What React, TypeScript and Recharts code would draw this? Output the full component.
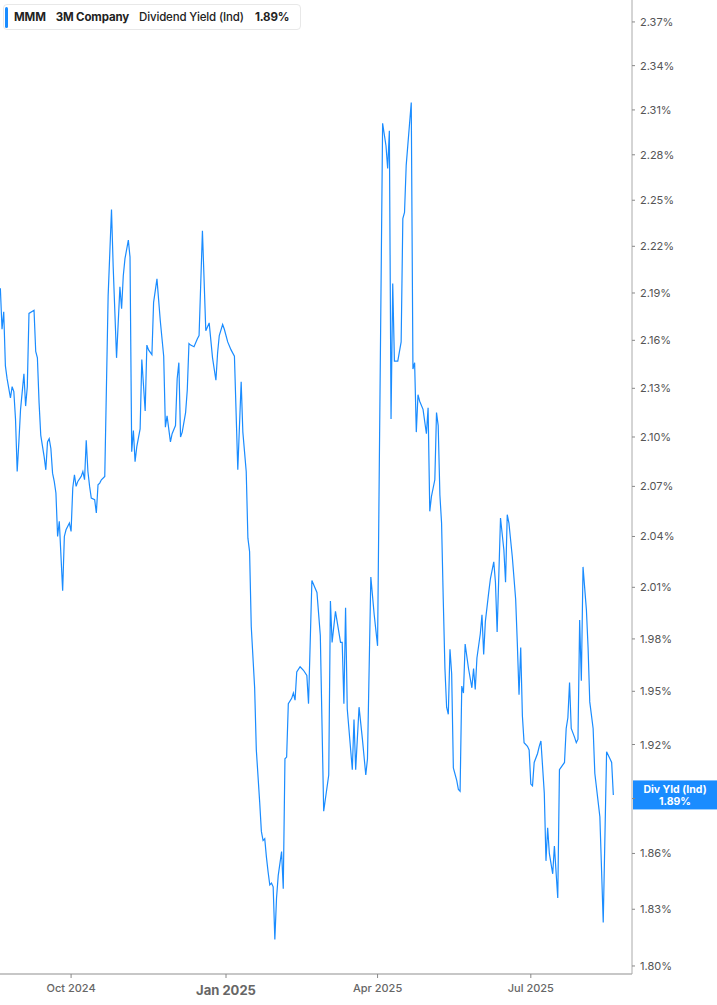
// MMM dividend yield — one year of daily readings on a log axis, TradingView-ish styling.
import { LineChart, Line, XAxis, YAxis, ReferenceLine } from "recharts";

const ticker = "MMM";
const company = "3M Company";
const metric = "Dividend Yield (Ind)";
const metricShort = "Div Yld (Ind)";

// trading-day readings (vertices)
const dates = [
  "2024-08-20", "2024-08-21", "2024-08-22", "2024-08-23", "2024-08-24", "2024-08-26", "2024-08-27", "2024-08-28", "2024-08-29", "2024-08-30",
  "2024-08-31", "2024-09-01", "2024-09-03", "2024-09-04", "2024-09-05", "2024-09-06", "2024-09-09", "2024-09-10", "2024-09-11", "2024-09-12",
  "2024-09-13", "2024-09-15", "2024-09-16", "2024-09-17", "2024-09-18", "2024-09-19", "2024-09-20", "2024-09-21", "2024-09-22", "2024-09-23",
  "2024-09-24", "2024-09-26", "2024-09-27", "2024-09-28", "2024-09-30", "2024-10-01", "2024-10-02", "2024-10-03", "2024-10-04", "2024-10-05",
  "2024-10-07", "2024-10-08", "2024-10-09", "2024-10-10", "2024-10-11", "2024-10-12", "2024-10-13", "2024-10-15", "2024-10-16", "2024-10-17",
  "2024-10-18", "2024-10-19", "2024-10-21", "2024-10-23", "2024-10-25", "2024-10-26", "2024-10-28", "2024-10-30", "2024-10-31", "2024-11-01",
  "2024-11-02", "2024-11-04", "2024-11-05", "2024-11-06", "2024-11-07", "2024-11-08", "2024-11-09", "2024-11-11", "2024-11-12", "2024-11-14",
  "2024-11-15", "2024-11-16", "2024-11-18", "2024-11-19", "2024-11-21", "2024-11-23", "2024-11-25", "2024-11-26", "2024-11-27", "2024-11-29",
  "2024-11-30", "2024-12-02", "2024-12-03", "2024-12-04", "2024-12-05", "2024-12-06", "2024-12-08", "2024-12-09", "2024-12-10", "2024-12-11",
  "2024-12-13", "2024-12-15", "2024-12-16", "2024-12-18", "2024-12-20", "2024-12-22", "2024-12-24", "2024-12-26", "2024-12-27", "2024-12-28",
  "2024-12-30", "2024-12-31", "2025-01-02", "2025-01-04", "2025-01-06", "2025-01-08", "2025-01-10", "2025-01-11", "2025-01-13", "2025-01-14",
  "2025-01-15", "2025-01-16", "2025-01-18", "2025-01-19", "2025-01-21", "2025-01-22", "2025-01-23", "2025-01-24", "2025-01-25", "2025-01-26",
  "2025-01-27", "2025-01-28", "2025-01-29", "2025-01-30", "2025-01-31", "2025-02-01", "2025-02-03", "2025-02-04", "2025-02-05", "2025-02-06",
  "2025-02-07", "2025-02-09", "2025-02-10", "2025-02-11", "2025-02-12", "2025-02-14", "2025-02-16", "2025-02-18", "2025-02-19", "2025-02-21",
  "2025-02-24", "2025-02-26", "2025-02-28", "2025-03-03", "2025-03-04", "2025-03-05", "2025-03-07", "2025-03-10", "2025-03-11", "2025-03-12",
  "2025-03-13", "2025-03-14", "2025-03-17", "2025-03-18", "2025-03-19", "2025-03-21", "2025-03-23", "2025-03-25", "2025-03-26", "2025-03-28",
  "2025-03-30", "2025-04-01", "2025-04-04", "2025-04-06", "2025-04-07", "2025-04-08", "2025-04-09", "2025-04-10", "2025-04-11", "2025-04-13",
  "2025-04-15", "2025-04-16", "2025-04-17", "2025-04-18", "2025-04-21", "2025-04-22", "2025-04-23", "2025-04-24", "2025-04-25", "2025-04-26",
  "2025-04-28", "2025-04-30", "2025-05-01", "2025-05-02", "2025-05-03", "2025-05-05", "2025-05-06", "2025-05-07", "2025-05-08", "2025-05-09",
  "2025-05-10", "2025-05-11", "2025-05-12", "2025-05-13", "2025-05-14", "2025-05-15", "2025-05-16", "2025-05-18", "2025-05-19", "2025-05-20",
  "2025-05-21", "2025-05-22", "2025-05-23", "2025-05-25", "2025-05-27", "2025-05-28", "2025-05-29", "2025-05-30", "2025-06-01", "2025-06-02",
  "2025-06-03", "2025-06-04", "2025-06-06", "2025-06-07", "2025-06-09", "2025-06-10", "2025-06-11", "2025-06-13", "2025-06-15", "2025-06-16",
  "2025-06-17", "2025-06-18", "2025-06-20", "2025-06-22", "2025-06-23", "2025-06-24", "2025-06-25", "2025-06-26", "2025-06-27", "2025-06-29",
  "2025-06-30", "2025-07-01", "2025-07-02", "2025-07-03", "2025-07-05", "2025-07-06", "2025-07-07", "2025-07-09", "2025-07-10", "2025-07-11",
  "2025-07-12", "2025-07-14", "2025-07-15", "2025-07-17", "2025-07-18", "2025-07-21", "2025-07-22", "2025-07-23", "2025-07-24", "2025-07-25",
  "2025-07-27", "2025-07-28", "2025-07-29", "2025-07-30", "2025-07-31", "2025-08-01", "2025-08-03", "2025-08-04", "2025-08-05", "2025-08-07",
  "2025-08-08", "2025-08-11", "2025-08-13", "2025-08-15", "2025-08-17", "2025-08-18", "2025-08-19",
];

const yields = [
  2.193, 2.167, 2.178, 2.144, 2.136, 2.124, 2.131, 2.128, 2.111, 2.079,
  2.097, 2.117, 2.139, 2.119, 2.131, 2.177, 2.179, 2.153, 2.149, 2.121,
  2.101, 2.088, 2.080, 2.097, 2.099, 2.093, 2.078, 2.073, 2.066, 2.040,
  2.049, 2.008, 2.040, 2.044, 2.048, 2.043, 2.069, 2.077, 2.070, 2.073,
  2.076, 2.079, 2.074, 2.098, 2.079, 2.070, 2.063, 2.062, 2.054, 2.071,
  2.072, 2.074, 2.076, 2.188, 2.244, 2.207, 2.149, 2.194, 2.180, 2.201,
  2.212, 2.224, 2.213, 2.091, 2.104, 2.085, 2.094, 2.105, 2.148, 2.116,
  2.157, 2.154, 2.151, 2.184, 2.199, 2.172, 2.150, 2.106, 2.113, 2.097,
  2.102, 2.107, 2.136, 2.146, 2.100, 2.103, 2.115, 2.129, 2.158, 2.157,
  2.156, 2.161, 2.163, 2.230, 2.166, 2.171, 2.149, 2.135, 2.152, 2.163,
  2.170, 2.167, 2.159, 2.154, 2.150, 2.080, 2.134, 2.103, 2.079, 2.039,
  2.031, 1.987, 1.952, 1.917, 1.888, 1.872, 1.867, 1.868, 1.858, 1.850,
  1.843, 1.844, 1.842, 1.814, 1.836, 1.848, 1.861, 1.841, 1.912, 1.913,
  1.943, 1.946, 1.949, 1.945, 1.961, 1.964, 1.962, 1.959, 1.943, 2.014,
  2.007, 1.982, 1.883, 1.903, 2.002, 1.978, 1.996, 1.978, 1.978, 1.943,
  1.998, 1.940, 1.906, 1.934, 1.906, 1.941, 1.923, 1.903, 1.912, 2.016,
  1.994, 1.976, 2.301, 2.286, 2.271, 2.296, 2.111, 2.196, 2.147, 2.147,
  2.159, 2.238, 2.242, 2.273, 2.315, 2.142, 2.146, 2.103, 2.126, 2.122,
  2.117, 2.102, 2.118, 2.055, 2.064, 2.074, 2.115, 2.107, 2.065, 2.048,
  2.003, 1.963, 1.941, 1.937, 1.974, 1.960, 1.907, 1.900, 1.895, 1.894,
  1.953, 1.949, 1.977, 1.963, 1.952, 1.963, 1.951, 1.969, 1.983, 1.994,
  1.971, 1.990, 2.007, 2.015, 2.025, 2.013, 1.984, 2.051, 2.032, 2.013,
  2.053, 2.048, 2.028, 2.003, 1.977, 1.948, 1.975, 1.936, 1.921, 1.919,
  1.917, 1.898, 1.897, 1.910, 1.915, 1.919, 1.922, 1.893, 1.856, 1.874,
  1.860, 1.849, 1.864, 1.836, 1.906, 1.910, 1.929, 1.935, 1.955, 1.929,
  1.924, 1.921, 1.923, 1.991, 1.956, 2.022, 1.997, 1.975, 1.944, 1.929,
  1.904, 1.880, 1.823, 1.916, 1.912, 1.910, 1.892,
];

const xTicks = ["2024-10-01", "2025-01-01", "2025-04-01", "2025-07-01"];
const xDomain = ["2024-08-19T19:00:00Z", "2025-08-30T02:00:00Z"];
const yTicks = [
  1.8, 1.83, 1.86, 1.89, 1.92, 1.95, 1.98, 2.01, 2.04, 2.07,
  2.1, 2.13, 2.16, 2.19, 2.22, 2.25, 2.28, 2.31, 2.34, 2.37,
];
const yDomain = [1.7958, 2.3852];

const MONTHS = ["Jan", "Feb", "Mar", "Apr", "May", "Jun", "Jul", "Aug", "Sep", "Oct", "Nov", "Dec"];
const BLUE = "#1a8cff";
const FONT = "Inter, 'Noto Sans', sans-serif";

const data = dates.map((d, i) => ({ t: Date.parse(d), v: yields[i] }));
const last = yields[yields.length - 1];

function DateTick({ x, y, payload }: any) {
  const d = new Date(payload.value);
  const yearStart = d.getUTCMonth() === 0;
  const label = `${MONTHS[d.getUTCMonth()]} ${d.getUTCFullYear()}`;
  return (
    <text
      x={x}
      y={y + (yearStart ? 15 : 12)}
      textAnchor="middle"
      fill="#666"
      fontFamily={FONT}
      fontSize={yearStart ? 13 : 11}
      fontWeight={yearStart ? 700 : 500}
    >
      {label}
    </text>
  );
}

// value ticks; the one hidden under the last-value tag keeps only its tick mark
function ValueTick({ x, y, payload }: any) {
  if (Math.abs(payload.value - last) < 0.01) return null;
  return (
    <text x={x} y={y + 4} fill="#555" fontFamily={FONT} fontSize={11}>
      {payload.value.toFixed(2)}%
    </text>
  );
}

/** Blue tag on the right axis with the latest value. */
function LastTag({ viewBox }: any) {
  if (!viewBox) return null;
  const left = viewBox.x + viewBox.width + 1;
  const cy = viewBox.y;
  return (
    <g>
      <rect x={left} y={cy - 14.5} width={85} height={29} fill={BLUE} />
      <text x={left + 42} y={cy - 1.5} textAnchor="middle" fill="#fff" fontFamily={FONT} fontSize={10.5} fontWeight={700}>
        {metricShort}
      </text>
      <text x={left + 42} y={cy + 10} textAnchor="middle" fill="#fff" fontFamily={FONT} fontSize={10.5} fontWeight={700}>
        {last.toFixed(2)}%
      </text>
    </g>
  );
}

export default function App() {
  return (
    <div style={{ position: "absolute", left: 0, top: 0, width: 717, height: 1005, background: "#fff", overflow: "hidden" }}>
      <LineChart
        width={717}
        height={1005}
        data={data}
        margin={{ top: 0, right: 0, bottom: 0, left: 0 }}
      >
        <XAxis
          dataKey="t"
          type="number"
          domain={xDomain.map((s) => Date.parse(s))}
          ticks={xTicks.map((s) => Date.parse(s))}
          allowDataOverflow
          height={31}
          axisLine={{ stroke: "#b5b5b5", strokeWidth: 1.5 }}
          tickLine={{ stroke: "#888" }}
          tickSize={4}
          tick={<DateTick />}
        />
        <YAxis
          orientation="right"
          scale="log"
          type="number"
          domain={yDomain}
          ticks={yTicks}
          allowDataOverflow
          width={85}
          axisLine={{ stroke: "#aaa" }}
          tickLine={{ stroke: "#888" }}
          tickSize={3}
          tickMargin={5}
          tick={<ValueTick />}
        />
        <Line
          type="linear"
          dataKey="v"
          stroke={BLUE}
          strokeWidth={1.2}
          dot={false}
          activeDot={false}
          isAnimationActive={false}
        />
        <ReferenceLine y={last} stroke="none" ifOverflow="visible" label={(p: any) => <LastTag {...p} />} />
      </LineChart>

      <div
        style={{
          position: "absolute",
          left: 3,
          top: 4,
          height: 26,
          padding: "0 11px 0 0",
          border: "1px solid #e8e8e8",
          borderRadius: 4,
          background: "#fff",
          fontFamily: FONT,
          fontSize: 11.5,
          letterSpacing: -0.15,
          color: "#222",
          display: "flex",
          alignItems: "center",
          whiteSpace: "nowrap",
          boxSizing: "border-box",
        }}
      >
        <div style={{ position: "absolute", left: 1, top: 2, width: 3, height: 21, background: BLUE, borderRadius: 2 }} />
        <span style={{ marginLeft: 10, fontWeight: 700 }}>{ticker}</span>
        <span style={{ marginLeft: 10, fontWeight: 700 }}>{company}</span>
        <span style={{ marginLeft: 10, fontWeight: 500 }}>{metric}</span>
        <span style={{ marginLeft: 11, fontWeight: 700 }}>{last.toFixed(2)}%</span>
      </div>
    </div>
  );
}
